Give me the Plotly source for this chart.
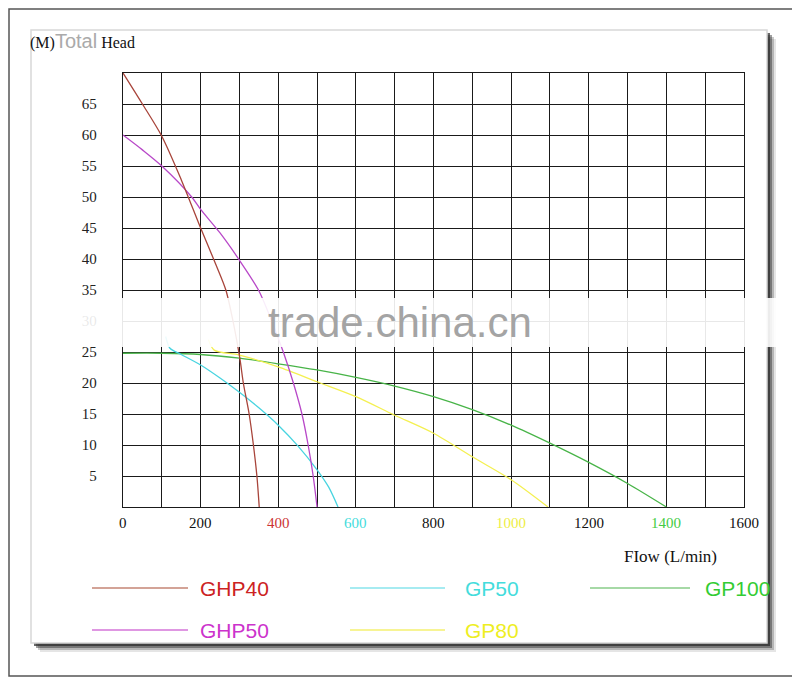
import plotly.graph_objects as go

# pump curves: flow (L/min) and total head (m)
ghp40_flow = [0, 50, 100, 150, 200, 240, 265, 285, 301, 310, 325, 336, 345, 351]
ghp40_head = [70, 65, 59.8, 52.8, 45, 39, 35, 29.5, 24, 20, 15, 10, 5, 0]

ghp50_flow = [0, 50, 100, 177, 200, 250, 300, 349, 380, 413, 439, 461, 477, 490, 500]
ghp50_head = [60, 57.6, 55, 50, 48, 44.2, 39.8, 35, 30.5, 25, 20, 15, 10, 5, 0]

gp50_flow = [110, 121, 150, 200, 250, 300, 350, 400, 450, 500, 530, 554]
gp50_head = [27.5, 25.6, 24.6, 22.9, 20.8, 18.5, 16, 13.2, 9.9, 6, 3.2, 0]

gp80_flow = [220, 235, 300, 400, 500, 600, 700, 800, 900, 1000, 1095]
gp80_head = [27, 25.3, 24.5, 22.6, 20.2, 17.8, 14.8, 11.9, 8.1, 4.4, 0]

gp100_flow = [0, 100, 200, 300, 400, 500, 600, 700, 800, 900, 1000, 1100, 1200, 1300, 1400]
gp100_head = [24.8, 24.8, 24.6, 24, 23.1, 22.1, 20.9, 19.5, 17.8, 15.7, 13.2, 10.3, 7.2, 3.8, 0]

series_names = ["GHP40", "GHP50", "GP50", "GP80", "GP100"]
line_colors = ["#a8443a", "#b848c8", "#48d4e0", "#f4f050", "#48b448"]
legend_line_colors = ["#c48474", "#d474d8", "#88e4ec", "#f4f070", "#88cc88"]
legend_text_colors = ["#cc2222", "#cc33cc", "#44dcdc", "#eeee22", "#33cc33"]

x_tick_vals = [0, 200, 400, 600, 800, 1000, 1200, 1400, 1600]
x_tick_colors = ["#111", "#111", "#cc3333", "#44dcdc", "#111", "#eeee44", "#111", "#44cc44", "#111"]
y_tick_vals = list(range(0, 75, 5))
y_tick_text = ["" if v in (0, 70) else str(v) for v in y_tick_vals]

flows = [ghp40_flow, ghp50_flow, gp50_flow, gp80_flow, gp100_flow]
heads = [ghp40_head, ghp50_head, gp50_head, gp80_head, gp100_head]

# plot area in page pixels (left, right, top, bottom); page body adds 8px
L, R, T, B = 123, 744, 73, 507
OFF = 8
W, H = 800 - OFF, 678 - OFF


def px(x):
    return (x - L) / (R - L)


def py(y):
    return (B - y) / (B - T)


fig = go.Figure()

# draw in back-to-front order similar to the picture
for i in [4, 3, 2, 1, 0]:
    fig.add_trace(go.Scatter(
        x=flows[i], y=heads[i], mode="lines", name=series_names[i],
        line=dict(color=line_colors[i], width=1.3, shape="spline", smoothing=0.8),
        showlegend=False, hoverinfo="skip"))

serif = "Liberation Serif, DejaVu Serif, serif"
sans = "Liberation Sans, Arial, sans-serif"

fig.update_xaxes(
    range=[0, 1600], dtick=100, tick0=0,
    showgrid=True, gridcolor="#1a1a1a", gridwidth=1.3,
    showline=True, linecolor="#1a1a1a", linewidth=1.3, mirror=True,
    zeroline=False, showticklabels=False, ticks="")
fig.update_yaxes(
    range=[0, 70], tickvals=y_tick_vals, ticktext=y_tick_text,
    showgrid=True, gridcolor="#1a1a1a", gridwidth=1.3,
    showline=True, linecolor="#1a1a1a", linewidth=1.3, mirror=True,
    zeroline=False, ticks="", ticklabelstandoff=22,
    tickfont=dict(family=serif, size=15, color="#222"))

shapes = []
# outer image frame
shapes.append(dict(type="rect", xref="paper", yref="paper", layer="below",
                   x0=px(9), x1=px(798), y0=py(676), y1=py(9),
                   line=dict(color="#555", width=1.5), fillcolor="white"))
# panel shadow
for off, op in [(9, 0.12), (7, 0.25), (5, 0.45), (3, 0.7)]:
    shapes.append(dict(type="rect", xref="paper", yref="paper", layer="below",
                       x0=px(31 + off), x1=px(767 + off), y0=py(643 + off), y1=py(30 + off),
                       line=dict(width=0), fillcolor="#2a2a2a", opacity=op))
# panel
shapes.append(dict(type="rect", xref="paper", yref="paper", layer="below",
                   x0=px(31), x1=px(767), y0=py(643), y1=py(30),
                   line=dict(color="#d8d8d8", width=1.5), fillcolor="white"))
# watermark band
shapes.append(dict(type="rect", xref="paper", yref="paper", layer="above",
                   x0=px(55), x1=px(800), y0=py(347), y1=py(298),
                   line=dict(width=0), fillcolor="white", opacity=0.9))

# legend lines
legend_pos = [(92, 188, 588), (92, 188, 630), (350, 445, 588), (350, 445, 630), (590, 690, 588)]
legend_text_x = [198, 198, 463, 463, 703]
for i, (x0, x1, yy) in enumerate(legend_pos):
    shapes.append(dict(type="line", xref="paper", yref="paper",
                       x0=px(x0), x1=px(x1), y0=py(yy), y1=py(yy),
                       line=dict(color=legend_line_colors[i], width=1.6)))

annotations = []
for i, name in enumerate(series_names):
    annotations.append(dict(
        xref="paper", yref="paper", x=px(legend_text_x[i]), y=py(legend_pos[i][2]),
        text=name, showarrow=False, xanchor="left", yanchor="middle",
        font=dict(family=sans, size=21, color=legend_text_colors[i])))

# coloured flow tick labels
for v, c in zip(x_tick_vals, x_tick_colors):
    annotations.append(dict(
        xref="x", yref="paper", x=v, y=py(523), text=str(v), showarrow=False,
        xanchor="center", yanchor="middle", font=dict(family=serif, size=15, color=c)))

annotations.append(dict(
    xref="paper", yref="paper", x=px(622), y=py(556), text="FIow (L/min)",
    showarrow=False, xanchor="left", yanchor="middle",
    font=dict(family=serif, size=17, color="#111")))
annotations.append(dict(
    xref="paper", yref="paper", x=px(28), y=py(41),
    text="(M)<span style='font-family:Liberation Sans;font-size:20px;color:#aaaaaa'>Total</span> Head",
    showarrow=False, xanchor="left", yanchor="middle",
    font=dict(family=serif, size=16, color="#111")))
annotations.append(dict(
    xref="paper", yref="paper", x=px(400), y=py(322), text="trade.china.cn",
    showarrow=False, xanchor="center", yanchor="middle",
    font=dict(family=sans, size=42, color="#a4a4a4")))

fig.update_layout(
    width=W, height=H,
    margin=dict(l=L - OFF, r=800 - R, t=T - OFF, b=678 - B),
    paper_bgcolor="white", plot_bgcolor="rgba(0,0,0,0)",
    shapes=shapes, annotations=annotations, showlegend=False)

fig.write_html("out.html")
